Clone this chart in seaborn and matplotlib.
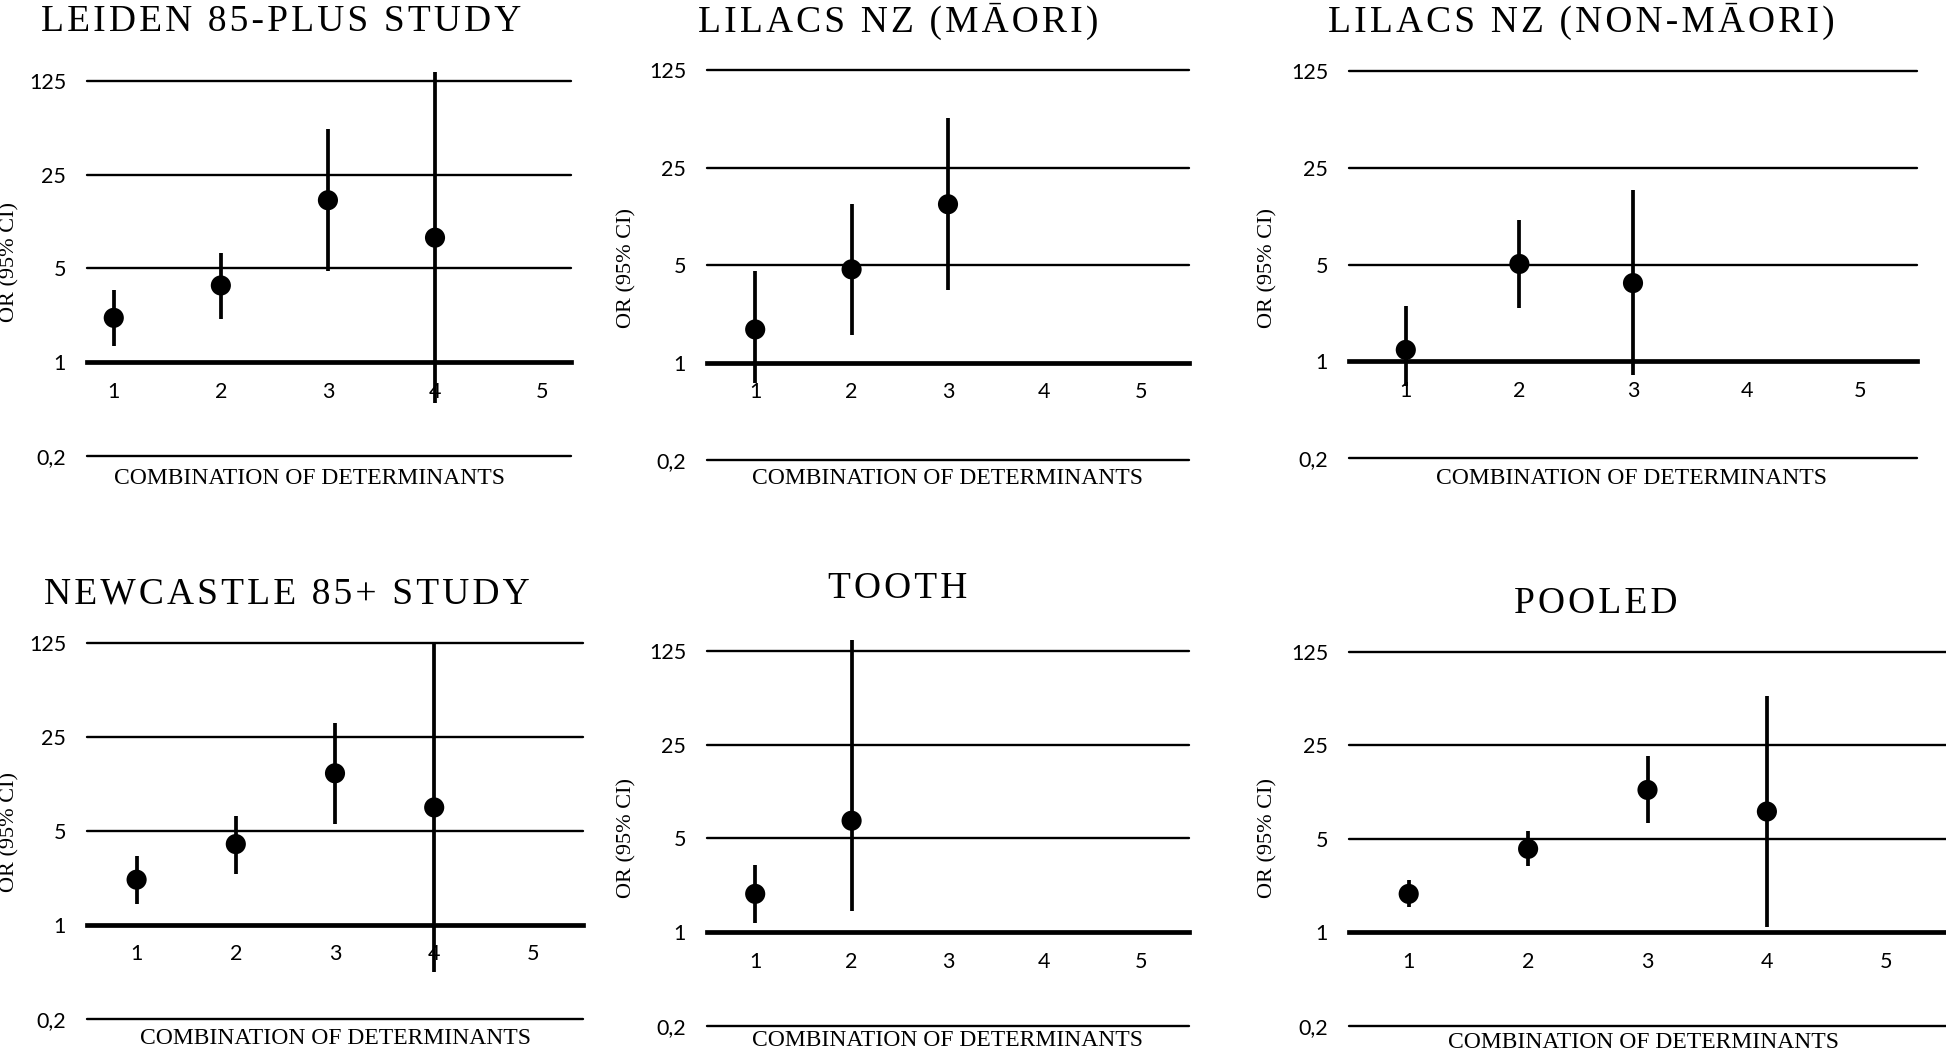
import matplotlib
matplotlib.use("Agg")
import matplotlib.pyplot as plt
import seaborn as sns
from matplotlib.ticker import NullLocator

# odds ratios with 95% CI
leiden_or = [2.14, 3.73, 16.1, 8.47]
leiden_lo = [1.32, 2.10, 4.78, 0.50]
leiden_hi = [3.47, 6.54, 55.0, 146.0]

maori_or = [1.73, 4.67, 13.7]
maori_lo = [0.71, 1.58, 3.32]
maori_hi = [4.57, 13.7, 57.0]

nonmaori_or = [1.21, 5.06, 3.68]
nonmaori_lo = [0.66, 2.43, 0.79]
nonmaori_hi = [2.50, 10.6, 17.4]

newcastle_or = [2.17, 3.99, 13.4, 7.47]
newcastle_lo = [1.42, 2.40, 5.65, 0.45]
newcastle_hi = [3.27, 6.48, 31.9, 127.0]

tooth_or = [1.93, 6.77]
tooth_lo = [1.17, 1.43]
tooth_hi = [3.18, 150.0]

pooled_or = [1.94, 4.21, 11.6, 8.0]
pooled_lo = [1.54, 3.11, 6.55, 1.09]
pooled_hi = [2.47, 5.74, 20.9, 58.7]

titles = ["LEIDEN 85-PLUS STUDY", "LILACS NZ (MĀORI)", "LILACS NZ (NON-MĀORI)",
          "NEWCASTLE 85+ STUDY", "TOOTH", "POOLED"]
y_ticks = [0.2, 1, 5, 25, 125]
y_ticklabels = ["0,2", "1", "5", "25", "125"]
x_ticks = [1, 2, 3, 4, 5]

series = [
    (leiden_or, leiden_lo, leiden_hi),
    (maori_or, maori_lo, maori_hi),
    (nonmaori_or, nonmaori_lo, nonmaori_hi),
    (newcastle_or, newcastle_lo, newcastle_hi),
    (tooth_or, tooth_lo, tooth_hi),
    (pooled_or, pooled_lo, pooled_hi),
]

W, H = 1946, 1052
# pixel boxes: left, top, right, bottom
boxes = [(87, 62, 571, 456), (707, 51, 1189, 460), (1349, 52, 1917, 458),
         (87, 624, 583, 1019), (707, 632, 1189, 1026), (1349, 633, 1946, 1026)]
xlims = [(0.75, 5.27), (0.5, 5.5), (0.5, 5.5), (0.5, 5.5), (0.5, 5.5), (0.5, 5.5)]
title_pos = [(281, 31), (898, 32), (1581, 32), (287, 604), (898, 598), (1596, 613)]
xlabel_pos = [(310, 479), (947, 478), (1632, 478), (336, 1038), (948, 1040), (1644, 1042)]
ylabel_pos = [(10, 262), (627, 268), (1268, 268), (10, 832), (627, 838), (1268, 838)]

sns.set_style("white")
plt.rcParams["font.family"] = ["Liberation Serif", "DejaVu Serif"]
plt.rcParams["text.color"] = "black"
plt.rcParams["axes.labelcolor"] = "black"
plt.rcParams["xtick.color"] = "black"
plt.rcParams["ytick.color"] = "black"

fig = plt.figure(figsize=(W / 100, H / 100), dpi=100)


def spaced(s):
    return "\u200a".join(s)


for i, (ors, lo, hi) in enumerate(series):
    l, t, r, b = boxes[i]
    ax = fig.add_axes([l / W, 1 - b / H, (r - l) / W, (b - t) / H])
    ax.set_yscale("log")
    ax.set_ylim(0.2, 125 * 5 ** 0.2)
    ax.set_xlim(*xlims[i])

    for v in y_ticks:
        if v != 1:
            ax.axhline(v, color="black", lw=1.7, zorder=1, clip_on=False)

    xs = list(range(1, len(ors) + 1))
    ax.vlines(xs, lo, hi, color="black", lw=2.7, zorder=3)
    sns.scatterplot(x=xs, y=ors, ax=ax, color="black", s=210,
                    edgecolor="none", zorder=4, legend=False)

    for side in ["top", "right", "left"]:
        ax.spines[side].set_visible(False)
    ax.spines["bottom"].set_position(("data", 1))
    ax.spines["bottom"].set_linewidth(3.4)
    ax.spines["bottom"].set_color("black")
    ax.spines["bottom"].set_zorder(2)

    ax.set_yticks(y_ticks)
    ax.set_yticklabels(y_ticklabels, family="Lato", fontsize=15.5)
    ax.yaxis.set_minor_locator(NullLocator())
    ax.set_xticks(x_ticks)
    ax.set_xticklabels([str(x) for x in x_ticks], family="Lato", fontsize=15.5)
    ax.tick_params(axis="y", length=0, pad=15)
    ax.tick_params(axis="x", length=0, pad=14)

    ax.set_xlabel("COMBINATION OF DETERMINANTS", fontsize=17)
    ax.xaxis.set_label_coords(xlabel_pos[i][0] / W, 1 - xlabel_pos[i][1] / H,
                              transform=fig.transFigure)
    ax.xaxis.label.set_va("center")
    ax.set_ylabel("OR (95% CI)", fontsize=16)
    ax.yaxis.set_label_coords(ylabel_pos[i][0] / W, 1 - ylabel_pos[i][1] / H,
                              transform=fig.transFigure)
    ax.yaxis.label.set_va("center")

    fig.text(title_pos[i][0] / W, 1 - title_pos[i][1] / H, spaced(titles[i]),
             ha="center", va="baseline", fontsize=27)

fig.savefig("out.png", dpi=100)
